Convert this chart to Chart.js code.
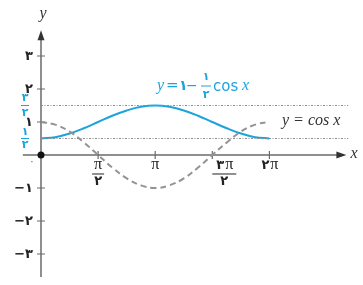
<!DOCTYPE html>
<html>
<head>
<meta charset="utf-8">
<script src="https://cdn.jsdelivr.net/npm/chart.js@4.4.1/dist/chart.umd.min.js"></script>
<style>
  body { margin: 0; background: #fff; }
  #wrap { width: 363px; height: 285px; }
</style>
</head>
<body>
<div id="wrap"><canvas id="c" width="363" height="285"></canvas></div>
<script>
// sample points (x in radians)
const xs     = [0, 0.39, 0.79, 1.18, 1.57, 1.96, 2.36, 2.75, 3.14, 3.53, 3.93, 4.32, 4.71, 5.11, 5.50, 5.89, 6.28]
const blueYs = [0.5, 0.54, 0.65, 0.81, 1, 1.19, 1.35, 1.46, 1.5, 1.46, 1.35, 1.19, 1, 0.81, 0.65, 0.54, 0.5]
const cosYs  = [1, 0.92, 0.71, 0.38, 0, -0.38, -0.71, -0.92, -1, -0.92, -0.71, -0.38, 0, 0.38, 0.71, 0.92, 1]

// dotted guide lines y = 3/2 and y = 1/2
const guideYs = [1.5, 0.5]
const guideXs = [0, 8.45]

// axis ticks
const xTickVals = [1.5708, 3.1416, 4.7124, 6.2832]
const xTickLabels = [['π', '۲'], ['π'], ['۳π', '۲'], ['۲π']]
const yTickVals = [3, 2, 1, -1, -2, -3]
const yTickLabels = ['۳', '۲', '۱', '−۱', '−۲', '−۳']

const BLUE = '#1ca3dc'
const AXIS = '#6b6b6b'

function pts(a, b) {
    return a.map((v, i) => ({ x: v, y: b[i] }))
}

let datasets = []
guideYs.forEach(g => {
    datasets.push({
        data: guideXs.map(v => ({ x: v, y: g })),
        borderColor: '#8c8c8c',
        borderWidth: 1,
        borderDash: [2, 1.5, 1, 1.5],
        pointRadius: 0,
        showLine: true
    })
})
datasets.push({
    data: pts(xs, cosYs),
    borderColor: '#939393',
    borderWidth: 2,
    borderDash: [6, 4],
    pointRadius: 0,
    showLine: true,
    tension: 0.4
})
datasets.push({
    data: pts(xs, blueYs),
    borderColor: BLUE,
    borderWidth: 2,
    pointRadius: 0,
    showLine: true,
    tension: 0.4
})

function txt(ctx, s, x, y, font, color, align) {
    ctx.font = font
    ctx.fillStyle = color
    ctx.textAlign = align || 'center'
    ctx.textBaseline = 'middle'
    ctx.fillText(s, x, y)
}

function bar(ctx, x1, x2, y, color) {
    ctx.strokeStyle = color
    ctx.lineWidth = 1
    ctx.beginPath()
    ctx.moveTo(x1, y)
    ctx.lineTo(x2, y)
    ctx.stroke()
}

const axesPlugin = {
    id: 'mathAxes',
    beforeDatasetsDraw(chart) {
        const ctx = chart.ctx
        const sx = chart.scales.x, sy = chart.scales.y
        const ox = sx.getPixelForValue(0), oy = sy.getPixelForValue(0)
        const xEnd = sx.getPixelForValue(8.4), yEnd = sy.getPixelForValue(3.78)
        ctx.save()
        ctx.strokeStyle = AXIS
        ctx.lineWidth = 1.5
        ctx.beginPath()
        ctx.moveTo(sx.getPixelForValue(-0.5), oy)
        ctx.lineTo(xEnd - 4, oy)
        ctx.moveTo(ox, sy.getPixelForValue(-3.7))
        ctx.lineTo(ox, yEnd + 4)
        ctx.stroke()
        // arrow heads
        ctx.fillStyle = '#333'
        ctx.beginPath()
        ctx.moveTo(xEnd, oy)
        ctx.lineTo(xEnd - 10, oy - 3.5)
        ctx.lineTo(xEnd - 10, oy + 3.5)
        ctx.closePath()
        ctx.fill()
        ctx.beginPath()
        ctx.moveTo(ox, yEnd)
        ctx.lineTo(ox - 3.5, yEnd + 10)
        ctx.lineTo(ox + 3.5, yEnd + 10)
        ctx.closePath()
        ctx.fill()
        // tick marks
        ctx.lineWidth = 1.2
        ctx.beginPath()
        xTickVals.forEach(v => {
            const p = sx.getPixelForValue(v)
            ctx.moveTo(p, oy - 4)
            ctx.lineTo(p, oy + 4)
        })
        yTickVals.forEach(v => {
            const p = sy.getPixelForValue(v)
            ctx.moveTo(ox - 4, p)
            ctx.lineTo(ox + 4, p)
        })
        ctx.stroke()
        ctx.restore()
    },
    afterDatasetsDraw(chart) {
        const ctx = chart.ctx
        const sx = chart.scales.x, sy = chart.scales.y
        const ox = sx.getPixelForValue(0), oy = sy.getPixelForValue(0)
        ctx.save()
        // origin dot
        ctx.fillStyle = '#111'
        ctx.beginPath()
        ctx.arc(ox, oy, 3.5, 0, Math.PI * 2)
        ctx.fill()

        const digit = 'bold 13px "DejaVu Sans"'
        const piFont = '16px "Liberation Serif"'
        const ital = 'italic 16px "Liberation Serif"'

        // y tick labels
        yTickVals.forEach((v, i) => {
            txt(ctx, yTickLabels[i], ox - 8, sy.getPixelForValue(v) + 1, digit, '#222', 'right')
        })
        txt(ctx, '۰', ox - 9, oy + 7, '9px "DejaVu Sans"', '#555', 'center')

        // blue fractions at 3/2 and 1/2
        const fx = ox - 16
        const y15 = sy.getPixelForValue(1.5), y05 = sy.getPixelForValue(0.5)
        txt(ctx, '۳', fx, y15 - 7, 'bold 11px "DejaVu Sans"', BLUE)
        bar(ctx, fx - 4, fx + 4, y15, BLUE)
        txt(ctx, '۲', fx, y15 + 8, 'bold 11px "DejaVu Sans"', BLUE)
        txt(ctx, '۱', fx, y05 - 6, 'bold 11px "DejaVu Sans"', BLUE)
        bar(ctx, fx - 4, fx + 4, y05, BLUE)
        txt(ctx, '۲', fx, y05 + 7, 'bold 11px "DejaVu Sans"', BLUE)

        // x tick labels
        const offs = [0, 0, 12, 0]
        xTickVals.forEach((v, i) => {
            const p = sx.getPixelForValue(v) + offs[i]
            const lab = xTickLabels[i]
            const w = lab[0].length > 1 ? 12 : 6
            if (lab[0].length > 1) {
                // digit + pi
                txt(ctx, lab[0][0], p - 4, oy + 11, digit, '#222')
                txt(ctx, 'π', p + 5, oy + 10, piFont, '#222')
            } else {
                txt(ctx, 'π', p, oy + 10, piFont, '#222')
            }
            if (lab.length === 2) {
                bar(ctx, p - w, p + w, oy + 19, '#222')
                txt(ctx, lab[1], p, oy + 27, digit, '#222')
            }
        })

        // axis names
        txt(ctx, 'x', 354, oy - 1, ital, '#333')
        txt(ctx, 'y', ox + 2, 14, ital, '#333')

        // y = cos x label
        txt(ctx, 'y = cos x', 282, 121, ital, '#333', 'left')

        // blue formula
        txt(ctx, 'y', 157, 86, ital, BLUE, 'left')
        txt(ctx, '=', 166, 86, '15px "DejaVu Sans"', BLUE, 'left')
        txt(ctx, '۱', 179, 86, 'bold 14px "DejaVu Sans"', BLUE, 'left')
        txt(ctx, '−', 186, 86, '14px "DejaVu Sans"', BLUE, 'left')
        txt(ctx, '۱', 206, 77, 'bold 11px "DejaVu Sans"', BLUE)
        bar(ctx, 201, 211, 86, BLUE)
        txt(ctx, '۲', 206, 95, 'bold 11px "DejaVu Sans"', BLUE)
        txt(ctx, 'cos', 213, 87, '15px "DejaVu Sans"', BLUE, 'left')
        txt(ctx, 'x', 242, 86, ital, BLUE, 'left')
        ctx.restore()
    }
}

new Chart(document.getElementById('c'), {
    type: 'scatter',
    data: { datasets: datasets },
    options: {
        responsive: false,
        animation: false,
        layout: { padding: 0 },
        plugins: { legend: { display: false }, tooltip: { enabled: false } },
        scales: {
            x: { type: 'linear', display: false, min: -1.128, max: 8.858 },
            y: { type: 'linear', display: false, min: -3.94, max: 4.697 }
        }
    },
    plugins: [axesPlugin]
})
</script>
</body>
</html>
